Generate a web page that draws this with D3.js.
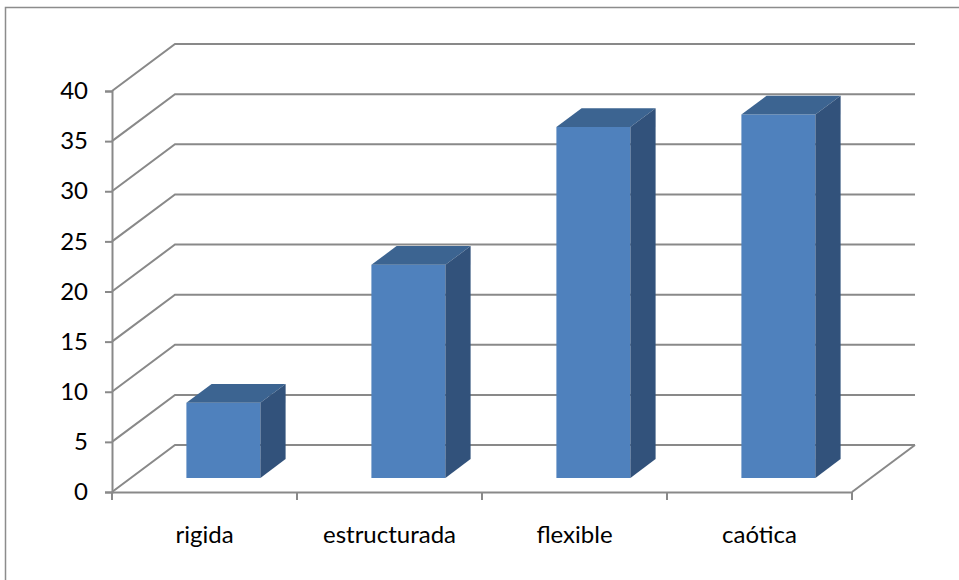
<!DOCTYPE html>
<html>
<head>
<meta charset="utf-8">
<script src="https://cdn.jsdelivr.net/npm/d3@7"></script>
<style>
  body { margin: 0; background: #fff; }
  text { font-family: Lato, "Open Sans", sans-serif; fill: #000; }
</style>
</head>
<body>
<svg width="959" height="580"></svg>
<script>
// data
const categories = ["rigida", "estructurada", "flexible", "caótica"];
const values = [7.5, 21.25, 35, 36.25];
const yTicks = [0, 5, 10, 15, 20, 25, 30, 35, 40];

let svg = d3.select("svg");

// 3D depth offset (back wall is shifted right and up)
const depth = {dx: 63, dy: -47};
const lineColor = "#898989";

let xScale = d3.scaleBand()
    .domain(categories)
    .range([112, 852]);
let yScale = d3.scaleLinear()
    .domain([0, 40])
    .range([492, 91]);

// point in the 3D box: x on front, value, depth fraction 0..1
const proj = (x, v, d) => [x + d * depth.dx, yScale(v) + d * depth.dy];

// outer chart border
svg.append("rect")
    .attr("x", 5.5)
    .attr("y", 7.5)
    .attr("width", 960)
    .attr("height", 600)
    .attr("fill", "none")
    .attr("stroke", "#8c8c8c")
    .attr("stroke-width", 1.5);

let grid = svg.append("g");

// gridlines: side wall diagonal + back wall line
yTicks.forEach(t => {
    let a = proj(xScale.range()[0], t, 0),
        b = proj(xScale.range()[0], t, 1),
        c = proj(xScale.range()[1], t, 1);
    grid.append("path")
        .attr("d", d3.line()([a, b, c]))
        .attr("fill", "none")
        .attr("stroke", lineColor)
        .attr("stroke-width", 2);
});

// floor right edge
grid.append("path")
    .attr("d", d3.line()([proj(xScale.range()[1], 0, 0), proj(xScale.range()[1], 0, 1)]))
    .attr("fill", "none")
    .attr("stroke", lineColor)
    .attr("stroke-width", 2);

// y axis
let yAxis = svg.append("g")
    .attr("transform", "translate(" + xScale.range()[0] + ",0)")
    .call(d3.axisLeft(yScale).tickValues(yTicks).tickSize(7).tickPadding(17));
yAxis.select(".domain").attr("stroke", lineColor).attr("stroke-width", 2);
yAxis.selectAll(".tick line").attr("stroke", lineColor).attr("stroke-width", 2);
yAxis.selectAll("text")
    .attr("font-size", "24px")
    .attr("font-family", "Lato, sans-serif")
    .attr("fill", "#000");

// x axis (front edge of the floor)
let xAxis = svg.append("g")
    .attr("transform", "translate(0," + yScale(0) + ")")
    .call(d3.axisBottom(xScale).tickSize(0).tickPadding(34));
xAxis.select(".domain").attr("stroke", lineColor).attr("stroke-width", 2);
xAxis.selectAll("text")
    .attr("font-size", "24px")
    .attr("font-family", "Lato, sans-serif")
    .attr("fill", "#000");

// category boundary ticks
let bounds = categories.map(c => xScale(c)).concat([xScale.range()[1]]);
xAxis.selectAll(".sep")
    .data(bounds)
    .join("line")
    .attr("class", "sep")
    .attr("x1", d => d)
    .attr("x2", d => d)
    .attr("y1", 0)
    .attr("y2", 8)
    .attr("stroke", lineColor)
    .attr("stroke-width", 2);

// bars
const d0 = 0.3, d1 = 0.7;
let bars = svg.append("g");
categories.forEach((c, i) => {
    let bw = xScale.bandwidth() * 0.4;
    let x0 = xScale(c) + (xScale.bandwidth() - bw) / 2,
        x1 = x0 + bw,
        v = values[i];
    let g = bars.append("g");
    // front
    g.append("path")
        .attr("d", d3.line()([proj(x0, 0, d0), proj(x1, 0, d0), proj(x1, v, d0), proj(x0, v, d0)]) + "Z")
        .attr("fill", "#4f81bd");
    // top
    g.append("path")
        .attr("d", d3.line()([proj(x0, v, d0), proj(x1, v, d0), proj(x1, v, d1), proj(x0, v, d1)]) + "Z")
        .attr("fill", "#3c6491");
    // side
    g.append("path")
        .attr("d", d3.line()([proj(x1, 0, d0), proj(x1, 0, d1), proj(x1, v, d1), proj(x1, v, d0)]) + "Z")
        .attr("fill", "#32527b");
});
</script>
</body>
</html>
